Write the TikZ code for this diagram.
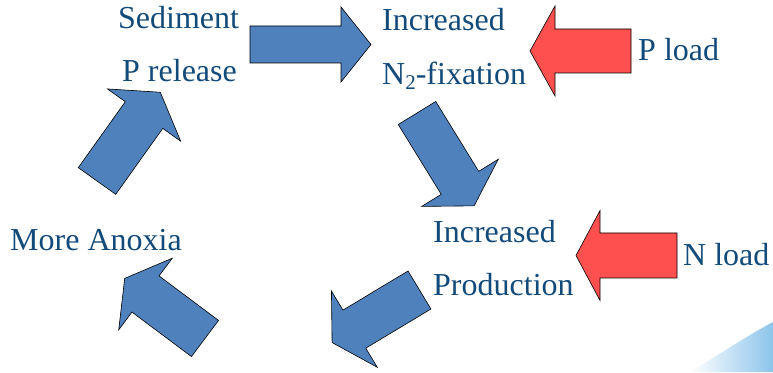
\documentclass[tikz,border=0pt]{standalone}
\usepackage{fontspec}
\setmainfont{Liberation Serif}
\usepackage{tikz}
\usetikzlibrary{positioning}
\usetikzlibrary{calc}

\definecolor{txtblue}{RGB}{18,74,122}
\definecolor{arrblue}{RGB}{79,129,189}
\definecolor{arrred}{RGB}{255,80,80}
\definecolor{skyblue}{RGB}{140,196,236}

% block arrow: style, tail x, tail y, angle, shaft length, half shaft, half head, head length
\newcommand{\blockarr}[8]{%
  \draw[#1, shift={(#2,#3)}, rotate=#4]
    (0,-#6) -- (#5,-#6) -- (#5,-#7) -- ++(#8,#7) -- (#5,#7) -- (#5,#6) -- (0,#6) -- cycle;}

\begin{document}
\begin{tikzpicture}[x=1pt,y=1pt,
  label/.style={anchor=base west, inner sep=0pt, text=txtblue,
    font=\fontsize{32}{38}\selectfont},
  cyc/.style={fill=arrblue, draw=black, line width=0.6pt, line join=miter},
  load/.style={fill=arrred, draw=black, line width=0.6pt, line join=miter}]

  \useasboundingbox (0,0) rectangle (773,372);

  % slide background swoosh
  \shade[left color=white, right color=skyblue, draw=none]
    (690,0) .. controls (720,18) and (750,38) .. (773,50) -- (773,0) -- cycle;

  \node[label] at (118,343) (sed) {Sediment};
  \node[label] at (122,290) (prel) {P release};
  \node[label] at (382,341) (incA) {Increased};
  \node[label] at (382,287) (nfix) {N\raisebox{-0.28ex}{\fontsize{21}{21}\selectfont 2}-fixation};
  \node[label] at (638,311) (pload) {P load};
  \node[label] at (10,121) (anox) {More Anoxia};
  \node[label] at (433,129) (incB) {Increased};
  \node[label] at (433,76) (prod) {Production};
  \node[label] at (683,106) (nload) {N load};

  % the cycle
  \blockarr{cyc}{250}{327.5}{0}{91}{18.5}{37.5}{30}
  \blockarr{cyc}{417}{259}{-58.4}{82}{22}{45}{27}
  \blockarr{cyc}{419.5}{82}{211}{76}{22.2}{44.5}{26}
  \blockarr{cyc}{205}{33.5}{143.2}{74.3}{22.6}{44.7}{26}
  \blockarr{cyc}{97}{191}{54.5}{81}{23}{45}{28}

  % outside loads
  \blockarr{load}{631}{321}{180}{76}{22}{45}{25}
  \blockarr{load}{677}{116.5}{180}{77}{22.5}{45}{24}

\end{tikzpicture}
\end{document}
